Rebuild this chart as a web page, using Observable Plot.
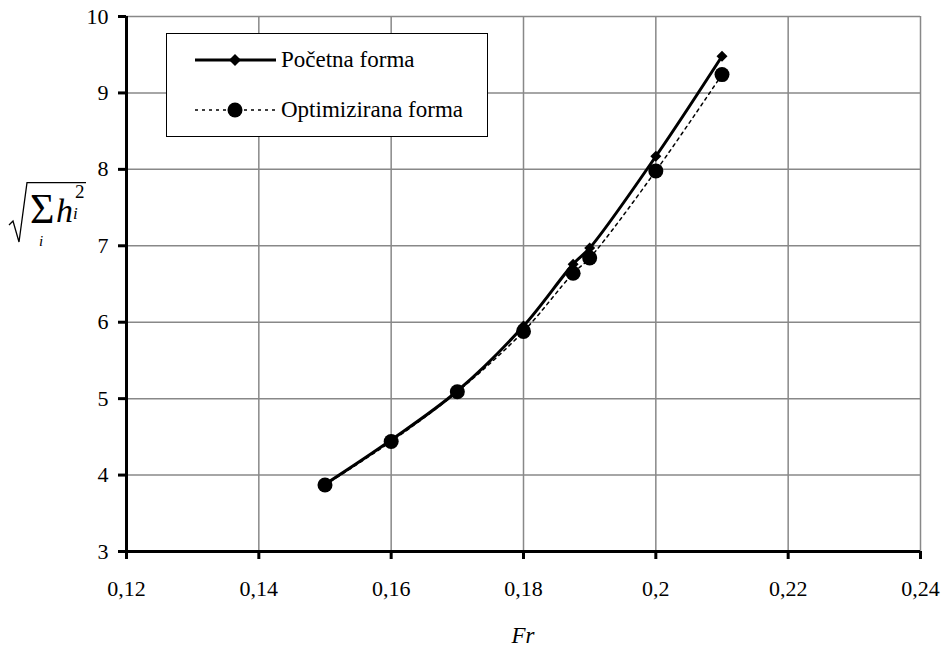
<!DOCTYPE html>
<html>
<head>
<meta charset="utf-8">
<script src="https://cdn.jsdelivr.net/npm/d3@7"></script>
<script src="https://cdn.jsdelivr.net/npm/@observablehq/plot@0.6"></script>
<style>
  html, body { margin: 0; padding: 0; background: white; }
  #chart svg { display: block; }
  #chart svg text { font-family: "Liberation Serif", "Times New Roman", Tinos, "DejaVu Serif", serif !important; font-variant-numeric: normal !important; }
</style>
</head>
<body>
<div id="chart"></div>
<script>
// ---- data ----
const fr = [0.15, 0.16, 0.17, 0.18, 0.1875, 0.19, 0.2, 0.21];
const pocetna = [3.88, 4.46, 5.10, 5.95, 6.76, 6.97, 8.17, 9.48];
const optimizirana = [3.87, 4.44, 5.09, 5.88, 6.64, 6.84, 7.98, 9.24];
const seriesNames = ["Početna forma", "Optimizirana forma"];
const xTicks = [0.12, 0.14, 0.16, 0.18, 0.2, 0.22, 0.24];
const yTicks = [3, 4, 5, 6, 7, 8, 9, 10];
const xLabel = "Fr";

const dataA = fr.map((x, i) => ({x, y: pocetna[i]}));
const dataB = fr.map((x, i) => ({x, y: optimizirana[i]}));

const serif = "\"Liberation Serif\", \"Times New Roman\", Tinos, \"DejaVu Serif\", serif";

const diamondSymbol = {
  draw(ctx, size) {
    const k = Math.sqrt(size / Math.PI);
    ctx.moveTo(0, -k); ctx.lineTo(k, 0); ctx.lineTo(0, k); ctx.lineTo(-k, 0); ctx.closePath();
  }
};

function legendMark() {
  const g = d3.create("svg:g").attr("text-anchor", "start");
  g.append("rect").attr("x", 166.5).attr("y", 33.5).attr("width", 321).attr("height", 103)
    .attr("fill", "white").attr("stroke", "black").attr("stroke-width", 1);
  // row 1
  g.append("line").attr("x1", 195).attr("x2", 276).attr("y1", 60).attr("y2", 60)
    .attr("stroke", "black").attr("stroke-width", 3);
  g.append("path").attr("d", "M235,54L241,60L235,66L229,60Z").attr("fill", "black");
  g.append("text").attr("x", 281).attr("y", 67).attr("font-size", 23).attr("text-anchor", "start").attr("fill", "black").text(seriesNames[0]);
  // row 2
  g.append("line").attr("x1", 195).attr("x2", 276).attr("y1", 110).attr("y2", 110)
    .attr("stroke", "black").attr("stroke-width", 1.5).attr("stroke-dasharray", "3,4");
  g.append("circle").attr("cx", 235).attr("cy", 110).attr("r", 7.5).attr("fill", "black");
  g.append("text").attr("x", 281).attr("y", 117).attr("font-size", 23).attr("text-anchor", "start").attr("fill", "black").text(seriesNames[1]);
  return g.node();
}

function labelsMark() {
  const g = d3.create("svg:g").attr("fill", "black").attr("text-anchor", "start");
  // radical sign
  g.append("path").attr("d", "M9,225L13,221L19,242L27,182.7L86,182.7")
    .attr("fill", "none").attr("stroke", "black").attr("stroke-width", 1.3);
  const t = (x, y, size, italic, s) => g.append("text").attr("x", x).attr("y", y)
    .attr("font-size", size).attr("text-anchor", "start")
    .attr("font-style", italic ? "italic" : "normal").text(s);
  t(30, 223.3, 42, false, "Σ");
  t(39, 245.5, 15, true, "i");
  t(56, 222, 34, true, "h");
  t(73, 219, 17, true, "i");
  t(75, 198.3, 19, false, "2");
  // x label
  g.append("text").attr("x", 523).attr("y", 643).attr("text-anchor", "middle")
    .attr("font-size", 23).attr("font-style", "italic").text(xLabel);
  return g.node();
}

const fmt = d => String(d).replace(".", ",");

const chart = Plot.plot({
  width: 945,
  height: 650,
  marginLeft: 126,
  marginRight: 25,
  marginTop: 16,
  marginBottom: 99,
  style: {fontFamily: serif, fontSize: "22px", background: "white", color: "black"},
  x: {domain: [0.12, 0.24]},
  y: {domain: [3, 10]},
  marks: [
    Plot.gridX(xTicks, {stroke: "#888", strokeOpacity: 1, strokeWidth: 1.5}),
    Plot.gridY(yTicks, {stroke: "#888", strokeOpacity: 1, strokeWidth: 1.5}),
    Plot.axisX(xTicks, {tickSize: 8, tickPadding: 21, strokeWidth: 3, tickFormat: fmt, label: null, fontSize: 22, fontFamily: serif, fontVariant: "normal"}),
    Plot.axisY(yTicks, {tickSize: 8, tickPadding: 10, strokeWidth: 3, tickFormat: d => String(d), label: null, fontSize: 22, fontFamily: serif, fontVariant: "normal"}),
    Plot.ruleY([3], {stroke: "black", strokeWidth: 3}),
    Plot.ruleX([0.12], {stroke: "black", strokeWidth: 3}),
    legendMark,
    Plot.line(dataA, {x: "x", y: "y", curve: "catmull-rom", stroke: "black", strokeWidth: 3}),
    Plot.dot(dataA, {x: "x", y: "y", symbol: diamondSymbol, r: 5.5, fill: "black", stroke: "none"}),
    Plot.line(dataB, {x: "x", y: "y", curve: "catmull-rom", stroke: "black", strokeWidth: 1.5, strokeDasharray: "3,4"}),
    Plot.dot(dataB, {x: "x", y: "y", r: 7.5, fill: "black", stroke: "none"}),
    labelsMark
  ]
});
document.getElementById("chart").appendChild(chart);
</script>
</body>
</html>
